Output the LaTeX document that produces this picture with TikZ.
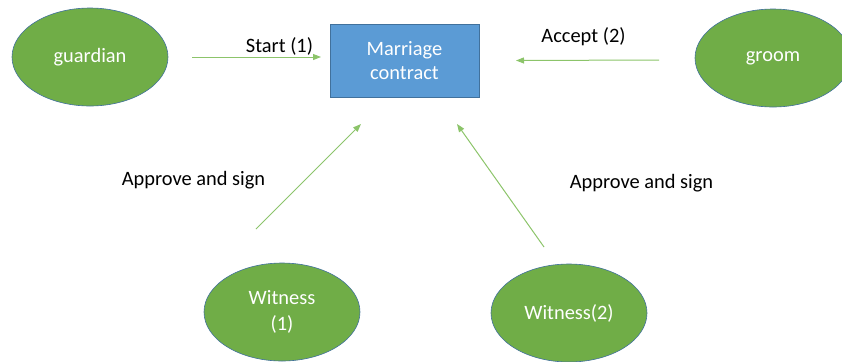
\documentclass[tikz,border=0pt]{standalone}
\usepackage{fontspec}
\setmainfont{Carlito}
\usetikzlibrary{shapes.geometric,arrows.meta}
\definecolor{egreen}{HTML}{70AD47}
\definecolor{eborder}{HTML}{41719C}
\definecolor{rblue}{HTML}{5B9BD5}
\definecolor{agreen}{HTML}{8CC46A}
\tikzset{
  actor/.style={ellipse, fill=egreen, draw=eborder, line width=0.6bp,
    minimum width=156bp, minimum height=98bp, inner sep=0pt,
    text=white, font=\fontsize{20.5}{26}\selectfont, align=center},
  contract/.style={rectangle, fill=rblue, draw=eborder, line width=0.6bp,
    minimum width=149bp, minimum height=73bp, inner sep=0pt,
    text=white, font=\fontsize{20.5}{25}\selectfont, align=center},
  flow/.style={draw=agreen, line width=1bp, -{Triangle[length=8bp,width=6bp]}},
  lbl/.style={font=\fontsize{20.5}{25}\selectfont, text=black, inner sep=0pt}
}
\begin{document}
\begin{tikzpicture}[x=1bp,y=-1bp]
\useasboundingbox (0,0) rectangle (842,361);
\begin{scope}
\clip (0,0) rectangle (842,361);
\node[actor] (guardian) at (90,57) {guardian};
\node[actor] (groom) at (773,58) {groom};
\node[actor] (w1) at (282,312) {Witness\\(1)};
\node[actor] (w2) at (569,313) {Witness(2)};
\end{scope}
\node[contract] (mc) at (404.5,60.5) {Marriage\\contract};

\coordinate (s1) at (192,57);
\coordinate (e1) at (321,57);
\coordinate (s2) at (659,60);
\coordinate (e2) at (516,60.5);
\coordinate (s3) at (256,229);
\coordinate (e3) at (361,124);
\coordinate (s4) at (544,247);
\coordinate (e4) at (457,124);
\draw[flow] (s1) -- (e1);
\draw[flow] (s2) -- (e2);
\draw[flow] (s3) -- (e3);
\draw[flow] (s4) -- (e4);

\node[lbl] (l1) at (279.5,46) {Start (1)};
\node[lbl] (l2) at (583.5,37) {Accept (2)};
\node[lbl] (l3) at (193.5,180) {Approve and sign};
\node[lbl] (l4) at (641.5,183) {Approve and sign};
\end{tikzpicture}
\end{document}
